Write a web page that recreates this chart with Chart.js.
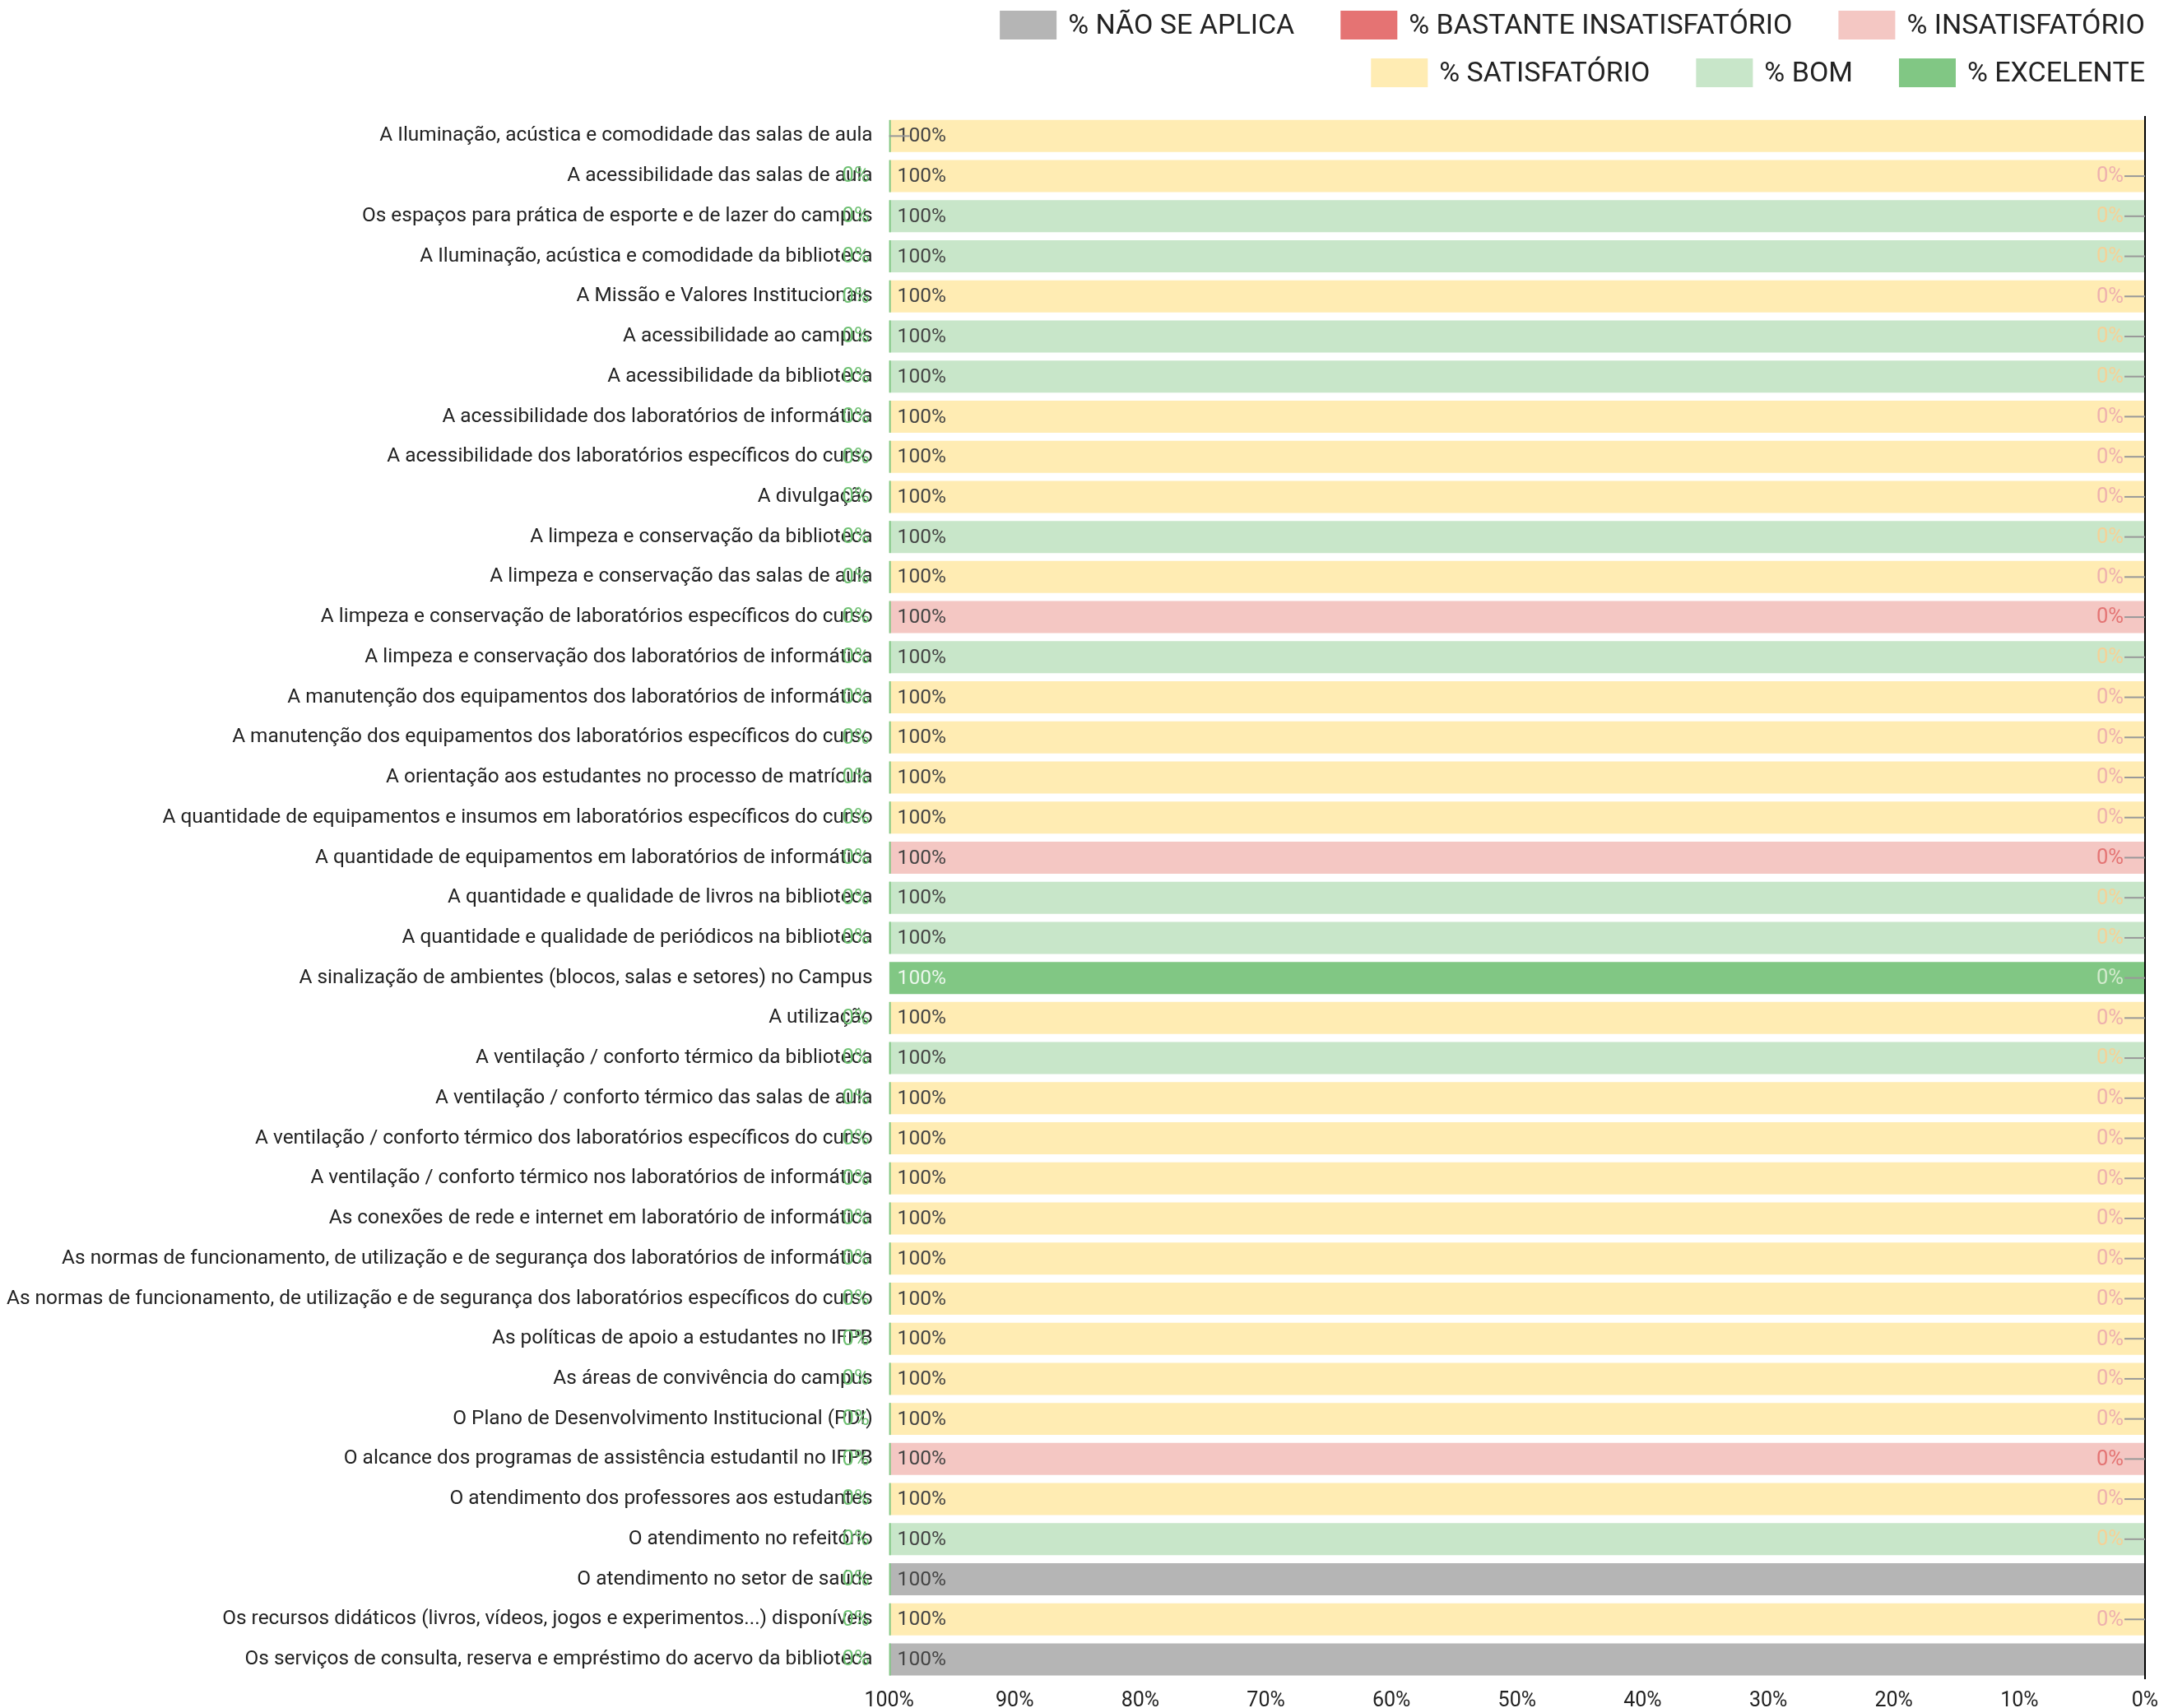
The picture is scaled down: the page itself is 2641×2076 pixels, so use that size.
<!doctype html>
<html lang="pt-BR">
<head>
<meta charset="utf-8">
<title>Avaliação da infraestrutura</title>
<script src="https://cdn.jsdelivr.net/npm/chart.js"></script>
<style>
  html, body { margin: 0; padding: 0; background: #fff; overflow: hidden; }
  #wrap { width: 2641px; height: 2076px; position: relative; }
</style>
</head>
<body>
<div id="wrap"><canvas id="grafico"></canvas></div>
<script>
// categorias (eixo y)
const categorias = [
  'A Iluminação, acústica e comodidade das salas de aula',
  'A acessibilidade das salas de aula',
  'Os espaços para prática de esporte e de lazer do campus',
  'A Iluminação, acústica e comodidade da biblioteca',
  'A Missão e Valores Institucionais',
  'A acessibilidade ao campus',
  'A acessibilidade da biblioteca',
  'A acessibilidade dos laboratórios de informática',
  'A acessibilidade dos laboratórios específicos do curso',
  'A divulgação',
  'A limpeza e conservação da biblioteca',
  'A limpeza e conservação das salas de aula',
  'A limpeza e conservação de laboratórios específicos do curso',
  'A limpeza e conservação dos laboratórios de informática',
  'A manutenção dos equipamentos dos laboratórios de informática',
  'A manutenção dos equipamentos dos laboratórios específicos do curso',
  'A orientação aos estudantes no processo de matrícula',
  'A quantidade de equipamentos e insumos em laboratórios específicos do curso',
  'A quantidade de equipamentos em laboratórios de informática',
  'A quantidade e qualidade de livros na biblioteca',
  'A quantidade e qualidade de periódicos na biblioteca',
  'A sinalização de ambientes (blocos, salas e setores) no Campus',
  'A utilização',
  'A ventilação / conforto térmico da biblioteca',
  'A ventilação / conforto térmico das salas de aula',
  'A ventilação / conforto térmico dos laboratórios específicos do curso',
  'A ventilação / conforto térmico nos laboratórios de informática',
  'As conexões de rede e internet em laboratório de informática',
  'As normas de funcionamento, de utilização e de segurança dos laboratórios de informática',
  'As normas de funcionamento, de utilização e de segurança dos laboratórios específicos do curso',
  'As políticas de apoio a estudantes no IFPB',
  'As áreas de convivência do campus',
  'O Plano de Desenvolvimento Institucional (PDI)',
  'O alcance dos programas de assistência estudantil no IFPB',
  'O atendimento dos professores aos estudantes',
  'O atendimento no refeitório',
  'O atendimento no setor de saúde',
  'Os recursos didáticos (livros, vídeos, jogos e experimentos...) disponíveis',
  'Os serviços de consulta, reserva e empréstimo do acervo da biblioteca'
];

// percentuais por série (mesma ordem das categorias)
const naoSeAplica = [0,0,0,0,0,0,0,0,0,0, 0,0,0,0,0,0,0,0,0,0, 0,0,0,0,0,0,0,0,0,0, 0,0,0,0,0,0,100,0,100];
const bastanteInsatisfatorio = [0,0,0,0,0,0,0,0,0,0, 0,0,0,0,0,0,0,0,0,0, 0,0,0,0,0,0,0,0,0,0, 0,0,0,0,0,0,0,0,0];
const insatisfatorio = [0,0,0,0,0,0,0,0,0,0, 0,0,100,0,0,0,0,0,100,0, 0,0,0,0,0,0,0,0,0,0, 0,0,0,100,0,0,0,0,0];
const satisfatorio = [100,100,0,0,100,0,0,100,100,100, 0,100,0,0,100,100,100,100,0,0, 0,0,100,0,100,100,100,100,100,100, 100,100,100,0,100,0,0,100,0];
const bom = [0,0,100,100,0,100,100,0,0,0, 100,0,0,100,0,0,0,0,0,100, 100,0,0,100,0,0,0,0,0,0, 0,0,0,0,0,100,0,0,0];
const excelente = [0,0,0,0,0,0,0,0,0,0, 0,0,0,0,0,0,0,0,0,0, 0,100,0,0,0,0,0,0,0,0, 0,0,0,0,0,0,0,0,0];

const nomes = ['% NÃO SE APLICA', '% BASTANTE INSATISFATÓRIO', '% INSATISFATÓRIO', '% SATISFATÓRIO', '% BOM', '% EXCELENTE'];
const series = [naoSeAplica, bastanteInsatisfatorio, insatisfatorio, satisfatorio, bom, excelente];
const ticksX = [0, 10, 20, 30, 40, 50, 60, 70, 80, 90, 100];

const cores = ['#b5b5b5', '#e57373', '#f4c7c3', '#ffecb3', '#c8e6c9', '#81c784'];
const coresRotulo = ['#a0a0a0', '#e47474', '#eeb0ae', '#f6d196', '#d3eacd', '#6ec072'];
const linhasLegenda = [[0, 1, 2], [3, 4, 5]];
const semRotuloZero = [0]; // primeira linha não mostra os 0%

const fonte = 'Roboto, "Noto Sans", sans-serif';

const legendaManual = {
  id: 'legendaManual',
  afterDraw(chart) {
    const ctx = chart.ctx;
    const direita = chart.chartArea.right;
    ctx.save();
    ctx.font = '34px ' + fonte;
    ctx.textBaseline = 'middle';
    ctx.textAlign = 'left';
    const ys = [30, 88];
    linhasLegenda.forEach((linha, r) => {
      const larguras = linha.map(i => 69 + 14 + ctx.measureText(nomes[i]).width);
      const total = larguras.reduce((a, b) => a + b, 0) + 56 * (linha.length - 1);
      let x = direita - total;
      linha.forEach((i, j) => {
        ctx.fillStyle = cores[i];
        ctx.fillRect(x, ys[r] - 17, 69, 35);
        ctx.fillStyle = '#222';
        ctx.fillText(nomes[i], x + 83, ys[r] + 2);
        x += larguras[j] + 56;
      });
    });
    ctx.restore();
  }
};

const rotulos = {
  id: 'rotulos',
  afterDatasetsDraw(chart) {
    const ctx = chart.ctx, xs = chart.scales.x, ys = chart.scales.y;
    const x0 = xs.getPixelForValue(0), x100 = xs.getPixelForValue(100);
    const passo = ys.getPixelForValue(1) - ys.getPixelForValue(0);
    const h = passo * 0.8;
    ctx.save();
    ctx.textBaseline = 'middle';
    categorias.forEach((c, i) => {
      const y = ys.getPixelForValue(i);
      const k = series.findIndex(s => s[i] > 0);
      // traço verde da série excelente (0%)
      if (k !== 5) {
        ctx.fillStyle = cores[5];
        ctx.fillRect(x100, y - h / 2, 2, h);
      }
      ctx.font = '24.5px ' + fonte;
      ctx.textAlign = 'left';
      ctx.fillStyle = k === 5 ? 'rgba(255,255,255,0.85)' : '#444';
      ctx.fillText(series[k][i] + '%', x100 + 10, y + 1);

      ctx.font = '25.5px ' + fonte;
      ctx.strokeStyle = '#999';
      ctx.lineWidth = 2;
      if (semRotuloZero.includes(i)) {
        ctx.beginPath();
        ctx.moveTo(x100, y);
        ctx.lineTo(x100 + 25, y);
        ctx.stroke();
        return;
      }
      if (k > 0) {
        ctx.beginPath();
        ctx.moveTo(x0 - 25, y);
        ctx.lineTo(x0, y);
        ctx.stroke();
        ctx.textAlign = 'right';
        ctx.fillStyle = coresRotulo[k - 1];
        ctx.fillText(series[k - 1][i] + '%', x0 - 26, y + 1);
      }
      if (k < 5) {
        ctx.textAlign = 'right';
        ctx.fillStyle = coresRotulo[5];
        ctx.fillText(series[5][i] + '%', x100 - 24, y + 1);
      }
    });
    ctx.restore();
  }
};

new Chart(document.getElementById('grafico'), {
  type: 'bar',
  data: {
    labels: categorias,
    datasets: series.map((s, i) => ({
      label: nomes[i],
      data: s,
      backgroundColor: cores[i],
      borderWidth: 0,
      barPercentage: 0.8,
      categoryPercentage: 1
    }))
  },
  options: {
    indexAxis: 'y',
    responsive: true,
    maintainAspectRatio: false,
    devicePixelRatio: 1,
    animation: false,
    layout: { padding: { top: 141, left: -12, right: 34, bottom: -26 } },
    plugins: {
      legend: { display: false },
      tooltip: { enabled: false }
    },
    scales: {
      x: {
        stacked: true,
        reverse: true,
        min: 0,
        max: 100,
        afterBuildTicks: axis => { axis.ticks = ticksX.map(v => ({ value: v })); },
        ticks: {
          callback: v => v + '%',
          font: { family: fonte, size: 25 },
          color: '#222',
          padding: 11,
          maxRotation: 0
        },
        grid: {
          color: c => (c.tick && c.tick.value === 0 ? '#000' : 'rgba(0,0,0,0)'),
          lineWidth: 2,
          drawTicks: false
        },
        border: { display: false }
      },
      y: {
        stacked: true,
        ticks: {
          font: { family: fonte, size: 24.4 },
          color: '#222',
          padding: 20,
          autoSkip: false
        },
        grid: { display: false, drawTicks: false },
        border: { display: false }
      }
    }
  },
  plugins: [rotulos, legendaManual]
});
</script>
</body>
</html>
